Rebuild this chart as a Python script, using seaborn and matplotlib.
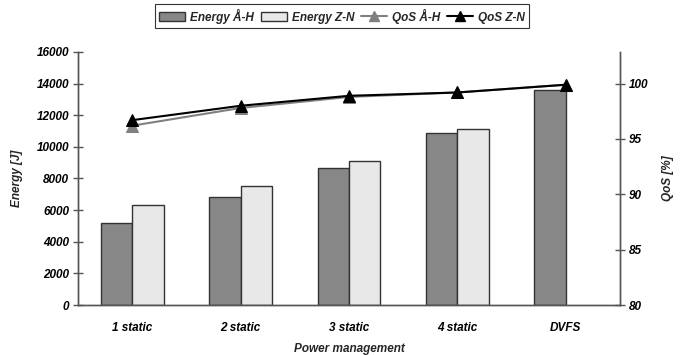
import matplotlib
matplotlib.use("Agg")
import matplotlib.pyplot as plt
import seaborn as sns
import numpy as np
import pandas as pd
from matplotlib.patches import Patch
from matplotlib.lines import Line2D
from matplotlib.ticker import MultipleLocator, FixedLocator

categories = ["1 static", "2 static", "3 static", "4 static", "DVFS"]
energy_ah = [5200, 6800, 8650, 10850, 13600]
energy_zn = [6300, 7500, 9100, 11150, np.nan]
qos_ah = [96.2, 97.8, 98.8, 99.2, 99.9]
qos_zn = [96.7, 98.0, 98.9, 99.2, 99.9]
series = ["Energy Å-H", "Energy Z-N", "QoS Å-H", "QoS Z-N"]

sns.set_theme(style="white")
plt.rcParams["font.family"] = ["Liberation Sans", "DejaVu Sans"]

bars = pd.DataFrame({
    "cat": categories * 2,
    "energy": energy_ah + energy_zn,
    "series": [series[0]] * 5 + [series[1]] * 5,
})
lines = pd.DataFrame({
    "x": list(range(5)) * 2,
    "qos": qos_ah + qos_zn,
    "series": [series[2]] * 5 + [series[3]] * 5,
})

fig = plt.figure(figsize=(6.83, 3.55), dpi=100)
ax = fig.add_axes([78 / 683, 1 - 305 / 355, (620 - 78) / 683, (305 - 52) / 355])

bar_cols = {series[0]: "#878787", series[1]: "#e8e8e8"}
sns.barplot(data=bars, x="cat", y="energy", hue="series", palette=bar_cols,
            width=0.58, dodge=True, ax=ax, edgecolor="#333333", linewidth=1.0,
            legend=False, saturation=1)

ax2 = ax.twinx()
line_cols = {series[2]: "#808080", series[3]: "#000000"}
sns.lineplot(data=lines, x="x", y="qos", hue="series", palette=line_cols,
             ax=ax2, marker="^", markersize=8, linewidth=1.5,
             markeredgecolor=None, legend=False)
for l, c in zip(ax2.lines, ["#808080", "#000000"]):
    l.set_markeredgecolor(c)
    l.set_markerfacecolor(c)

ax.set_xlim(-0.5, 4.5)
ax.set_ylim(0, 16000)
ax2.set_ylim(80, 80 + 20 * 16000 / 14000)

fp = dict(fontweight="bold", fontstyle="italic", fontsize=8.5, color="#000000")
ax.set_xticks(range(5))
ax.set_xticklabels(categories, **fp)
ax.set_yticks(np.arange(0, 16001, 2000))
ax.set_yticklabels([str(v) for v in range(0, 16001, 2000)], **fp)
ax2.set_yticks([80, 85, 90, 95, 100])
ax2.set_yticklabels(["80", "85", "90", "95", "100"], **fp)
ax.xaxis.set_minor_locator(FixedLocator([0.5, 1.5, 2.5, 3.5]))
ax.tick_params(axis="x", which="major", length=0, pad=12)
ax.tick_params(axis="x", which="minor", length=7, direction="inout", color="#555555", width=1)
ax.tick_params(axis="y", length=7, direction="inout", color="#555555", width=1, pad=3, left=True)
ax2.tick_params(axis="y", length=7, direction="inout", color="#555555", width=1, pad=3, right=True)

ax.set_xlabel("Power management", fontweight="bold", fontstyle="italic", fontsize=8.5, labelpad=7)
ax.set_ylabel("Energy [J]", fontweight="bold", fontstyle="italic", fontsize=8.5, labelpad=10)
ax2.set_ylabel("QoS [%]", fontweight="bold", fontstyle="italic", fontsize=8.5, labelpad=10)

for a in (ax, ax2):
    a.spines["top"].set_visible(False)
    for s in ("left", "right", "bottom"):
        a.spines[s].set_color("#555555")
        a.spines[s].set_linewidth(1)
    a.grid(False)
ax.patch.set_visible(False)

handles = [
    Patch(facecolor="#878787", edgecolor="#333333", label=series[0]),
    Patch(facecolor="#e8e8e8", edgecolor="#333333", label=series[1]),
    Line2D([], [], color="#808080", marker="^", markersize=7, lw=1.5, label=series[2]),
    Line2D([], [], color="#000000", marker="^", markersize=7, lw=1.5, label=series[3]),
]
leg = fig.legend(handles=handles, loc="center", bbox_to_anchor=(342 / 683, 1 - 16 / 355),
                 ncol=4, frameon=True, fancybox=False, edgecolor="#000000",
                 prop=dict(weight="bold", style="italic", size=8.5),
                 handlelength=2.2, handleheight=0.7, columnspacing=0.6,
                 handletextpad=0.4, borderpad=0.35, borderaxespad=0)
leg.get_frame().set_linewidth(0.8)

fig.savefig("out.png", dpi=100)
